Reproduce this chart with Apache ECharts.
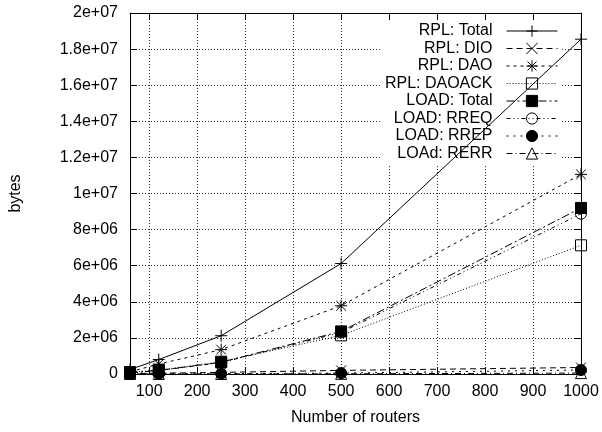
<!DOCTYPE html>
<html><head><meta charset="utf-8">
<script src="https://cdn.jsdelivr.net/npm/echarts@6/dist/echarts.min.js"></script>
<style>html,body{margin:0;padding:0;background:#fff}#c{width:602px;height:432px}</style>
</head><body><div id="c"></div>
<script>
// ---- data ----
const routers    = [60, 120, 250, 500, 1000];
const rplTotal   = [0.25e6, 0.80e6, 2.12e6, 6.12e6, 18.55e6];
const rplDio     = [0.02e6, 0.045e6, 0.09e6, 0.20e6, 0.36e6];
const rplDao     = [0.12e6, 0.55e6, 1.35e6, 3.78e6, 11.06e6];
const rplDaoack  = [0.11e6, 0.21e6, 0.68e6, 2.14e6, 7.13e6];
const loadTotal  = [0.06e6, 0.20e6, 0.65e6, 2.36e6, 9.20e6];
const loadRreq   = [0.055e6, 0.19e6, 0.63e6, 2.30e6, 8.88e6];
const loadRrep   = [0.003e6, 0.008e6, 0.018e6, 0.05e6, 0.22e6];
const loadRerr   = [0.001e6, 0.002e6, 0.004e6, 0.01e6, 0.05e6];
const seriesNames = ['RPL: Total', 'RPL: DIO', 'RPL: DAO', 'RPL: DAOACK',
                     'LOAD: Total', 'LOAD: RREQ', 'LOAD: RREP', 'LOAd: RERR'];
const xTicks = [100, 200, 300, 400, 500, 600, 700, 800, 900, 1000];
const xTickLabels = ['100', '200', '300', '400', '500', '600', '700', '800', '900', '1000'];
const yTickLabels = ['0', '2e+06', '4e+06', '6e+06', '8e+06', '1e+07',
                     '1.2e+07', '1.4e+07', '1.6e+07', '1.8e+07', '2e+07'];
const xName = 'Number of routers';
const yName = 'bytes';

// ---- styling ----
const FONT = 'Liberation Sans, Arial, Helvetica, sans-serif';
const SYM = {
  plus:  'path://M0,5L10,5M5,0L5,10',
  cross: 'path://M0,0L10,10M10,0L0,10',
  star:  'path://M0,5L10,5M5,0L5,10M1,1L9,9M9,1L1,9'
};
function pts(ys) { return routers.map((x, i) => [x, ys[i]]); }
function mk(name, ys, dash, symbol, size, filled) {
  return {
    type: 'line', name: name, data: pts(ys),
    symbol: symbol, symbolSize: size, showSymbol: true,
    lineStyle: { color: '#000', width: 1, type: dash },
    itemStyle: { color: filled ? '#000' : 'transparent', borderColor: '#000', borderWidth: 1 },
    emphasis: { disabled: true },
    animation: false, z: 3
  };
}
const series = [
  mk(seriesNames[0], rplTotal,  'solid',        SYM.plus,  12, false),
  mk(seriesNames[1], rplDio,    [6, 4],         SYM.cross, 10, false),
  mk(seriesNames[2], rplDao,    [3, 4],         SYM.star,  12, false),
  mk(seriesNames[3], rplDaoack, [1, 2],         'rect',    11, false),
  mk(seriesNames[4], loadTotal, [8, 3, 2, 3],   'rect',    11, true),
  mk(seriesNames[5], loadRreq,  [4, 3, 1, 3, 1, 3], 'circle', 11, false),
  mk(seriesNames[6], loadRrep,  [2, 5],         'circle',  11, true),
  mk(seriesNames[7], loadRerr,  [6, 3, 1, 3],   'triangle',11, false)
];
const gridLine = { show: true, lineStyle: { color: '#333', width: 1, type: [1, 2] } };
const axisLine = { show: true, onZero: false, lineStyle: { color: '#000', width: 1 } };
const tick = { show: true, inside: true, length: 7, lineStyle: { color: '#000' } };

const chart = echarts.init(document.getElementById('c'), null, { renderer: 'canvas' });
chart.setOption({
  animation: false,
  backgroundColor: '#fff',
  textStyle: { fontFamily: FONT },
  grid: { left: 128, right: 21, top: 13, bottom: 58, containLabel: false },
  legend: {
    data: seriesNames, orient: 'vertical', align: 'right',
    right: 41, top: 20, padding: [3, 3, 3, 5],
    itemWidth: 51, itemHeight: 14, itemGap: 1.5,
    backgroundColor: '#fff', z: 1,
    selectedMode: false,
    itemStyle: { borderWidth: 1 },
    lineStyle: { width: 1 },
    textStyle: { fontFamily: FONT, fontSize: 16, color: '#000', lineHeight: 16, padding: [0, 9, 0, 0] }
  },
  xAxis: [{
    type: 'value', min: 60, max: 1000, position: 'bottom',
    name: xName, nameLocation: 'middle', nameGap: 36,
    nameTextStyle: { fontFamily: FONT, fontSize: 16, color: '#000' },
    axisLine: axisLine,
    axisTick: Object.assign({ customValues: xTicks }, tick),
    axisLabel: { customValues: xTicks, fontFamily: FONT, fontSize: 16, color: '#000', margin: 10,
      formatter: v => xTickLabels[xTicks.indexOf(Math.round(v))] || '' },
    splitLine: gridLine
  }, {
    type: 'value', min: 60, max: 1000, position: 'top',
    axisLine: axisLine,
    axisTick: Object.assign({ customValues: xTicks }, tick),
    axisLabel: { show: false, customValues: xTicks },
    splitLine: { show: false }
  }],
  yAxis: [{
    type: 'value', min: 0, max: 2e7, interval: 2e6, position: 'left',
    name: yName, nameLocation: 'middle', nameGap: 106,
    nameTextStyle: { fontFamily: FONT, fontSize: 16, color: '#000' },
    axisLine: axisLine, axisTick: tick,
    axisLabel: { fontFamily: FONT, fontSize: 16, color: '#000', margin: 12,
      formatter: v => yTickLabels[Math.round(v / 2e6)] },
    splitLine: gridLine
  }, {
    type: 'value', min: 0, max: 2e7, interval: 2e6, position: 'right',
    axisLine: axisLine, axisTick: tick,
    axisLabel: { show: false }, splitLine: { show: false }
  }],
  series: series
});
</script></body></html>
